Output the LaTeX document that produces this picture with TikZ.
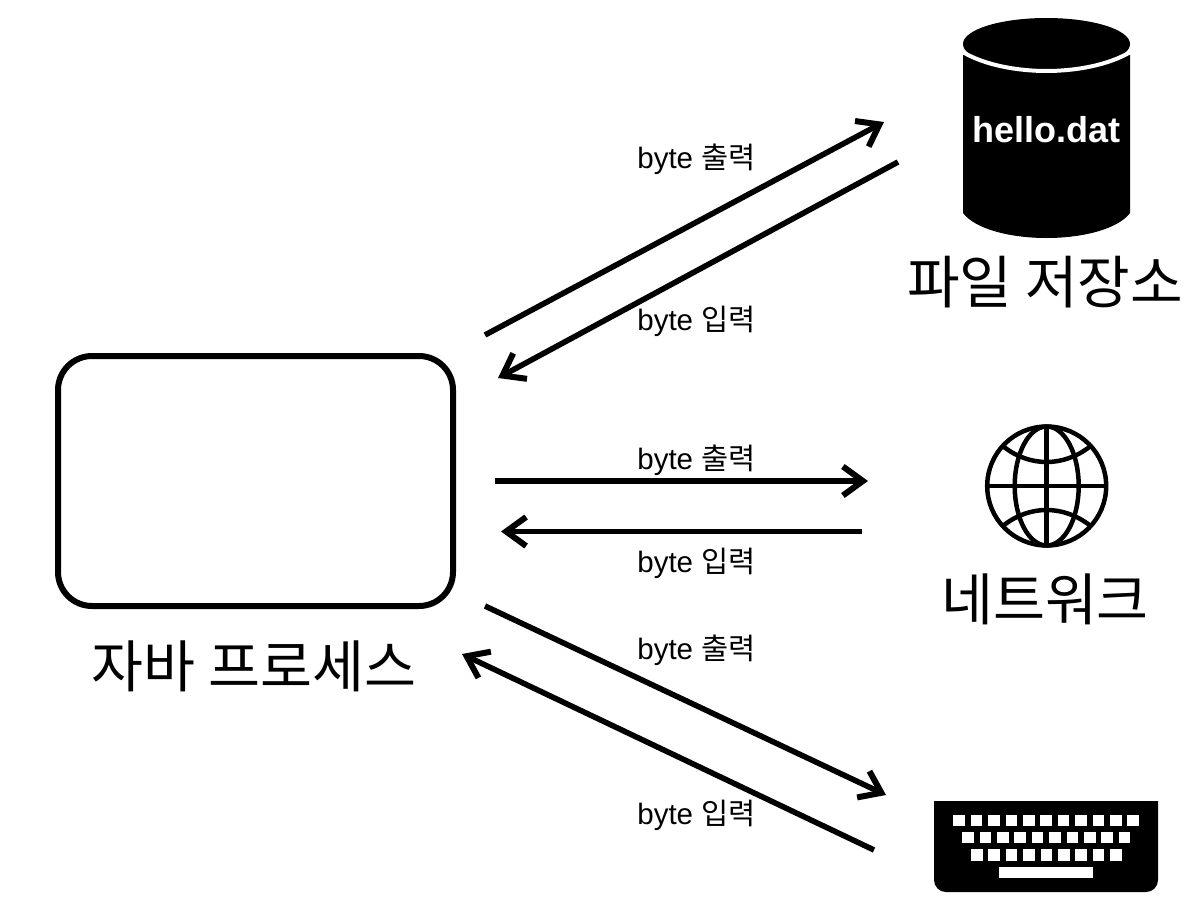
\documentclass[tikz,border=0pt]{standalone}
\usepackage{fontspec}
\setmainfont{Liberation Sans}
\newfontfamily\krfont{Noto Sans CJK KR}
\usetikzlibrary{arrows.meta}
\tikzset{
  flow/.style={line width=5.6pt,-{Straight Barb[length=20pt,width=29pt,line width=6pt]}},
  small/.style={inner sep=0pt,font=\fontsize{29.5}{34}\selectfont},
  big/.style={inner sep=0pt,font=\krfont\fontsize{56.5}{62}\selectfont},
  keycap/.style={fill=white,draw=none},
  globeline/.style={line width=4.5pt,draw=black}
}
\newcommand{\bytelabel}[1]{byte {\krfont\fontsize{29.5}{34}\selectfont #1}}
\begin{document}
\begin{tikzpicture}[x=1pt,y=-1pt]
\useasboundingbox (0,0) rectangle (1198,907);
% process box
\node[draw,line width=6pt,rounded corners=34pt,minimum width=395pt,minimum height=250pt,inner sep=0pt] (proc) at (255.5,481) {};
\node[big] (proclabel) at (254,666) {자바 프로세스};
% cylinder
\fill (963,55) -- (963,213) .. controls (975,229) and (1010,238) .. (1046.5,238) .. controls (1083,238) and (1118,229) .. (1130,213) -- (1130,55) -- cycle;
\fill (1046.5,44) ellipse[x radius=83.5,y radius=26];
\draw[white,line width=4pt] (961,51) .. controls (985,66) and (1020,71) .. (1046.5,71) .. controls (1073,71) and (1108,66) .. (1132,51);
\node[inner sep=0pt,text=white,font=\bfseries\fontsize{36}{40}\selectfont] (hello) at (1046,130) {hello.dat};
\node[big,font=\krfont\fontsize{57.2}{64}\selectfont] (filelabel) at (1045,282) {파일 저장소};
% globe
\draw[globeline] (1046.7,486) circle[radius=59.5];
\draw[globeline] (1046.7,486) ellipse[x radius=32,y radius=59.5];
\draw[globeline] (1046.7,426.5) -- (1046.7,545.5);
\draw[globeline] (987.2,486) -- (1106.2,486);
\draw[globeline] (1004,447) .. controls (1030,467) and (1063,467) .. (1089.4,447);
\draw[globeline] (1004,525) .. controls (1030,505) and (1063,505) .. (1089.4,525);
\node[big] (netlabel) at (1045,599) {네트워크};
% keyboard
\fill (934,801) -- (1158,801) -- (1158,880) arc[start angle=0,end angle=90,radius=12] -- (946,892) arc[start angle=90,end angle=180,radius=12] -- cycle;
\foreach \i in {0,...,10}{\fill[keycap] ({953.3+17.4*\i},814.5) rectangle ++(11.6,11.6);}
\foreach \i in {0,...,9}{\fill[keycap] ({962.2+17.4*\i},831.7) rectangle ++(11.6,11.6);}
\foreach \i in {0,...,8}{\fill[keycap] ({971+17.4*\i},849) rectangle ++(11.6,11.6);}
\fill[keycap] (999.3,866.7) rectangle (1093,877.8);
% anchors
\coordinate (a1s) at (485,335); \coordinate (a1e) at (884,122);
\coordinate (a2s) at (898,162); \coordinate (a2e) at (498,378);
\coordinate (b1s) at (495,481); \coordinate (b1e) at (868,481);
\coordinate (b2s) at (862,531.5); \coordinate (b2e) at (501,531.5);
\coordinate (c1s) at (485,606); \coordinate (c1e) at (886,795);
\coordinate (c2s) at (874,850); \coordinate (c2e) at (462,654);
\foreach \s/\e in {a1s/a1e,a2s/a2e,b1s/b1e,b2s/b2e,c1s/c1e,c2s/c2e}{\draw[flow] (\s) -- (\e);}
% labels
\node[small] (l1) at (696.5,159) {\bytelabel{출력}};
\node[small] (l2) at (696.5,321) {\bytelabel{입력}};
\node[small] (l3) at (696.5,460) {\bytelabel{출력}};
\node[small] (l4) at (696.5,563) {\bytelabel{입력}};
\node[small] (l5) at (696.5,650) {\bytelabel{출력}};
\node[small] (l6) at (696.5,815) {\bytelabel{입력}};
\end{tikzpicture}
\end{document}
